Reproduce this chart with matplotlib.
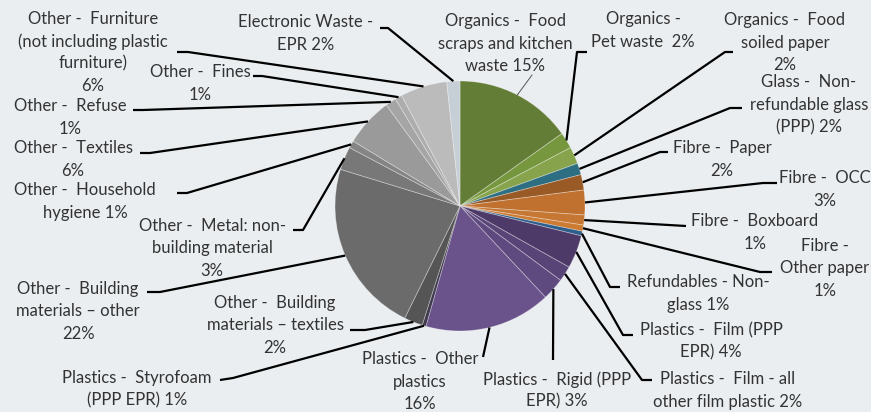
import matplotlib
matplotlib.use("Agg")
import matplotlib.pyplot as plt
import numpy as np

# ---- data ----
categories = [
    "Organics -  Food\nscraps and kitchen\nwaste",
    "Organics -\nPet waste ",
    "Organics -  Food\nsoiled paper\n",
    "Glass -  Non-\nrefundable glass\n(PPP)",
    "Fibre -  Paper\n",
    "Fibre -  OCC\n",
    "Fibre -  Boxboard\n",
    "Fibre -\nOther paper\n",
    "Refundables - Non-\nglass",
    "Plastics -  Film (PPP\nEPR)",
    "Plastics -  Film - all\nother film plastic",
    "Plastics -  Rigid (PPP\nEPR)",
    "Plastics -  Other\nplastics\n",
    "Plastics -  Styrofoam\n(PPP EPR)",
    "Other -  Building\nmaterials \u2013 textiles\n",
    "Other -  Building\nmaterials \u2013 other\n",
    "Other -  Metal: non-\nbuilding material\n",
    "Other -  Household\nhygiene",
    "Other -  Textiles\n",
    "Other -  Refuse\n",
    "Other -  Fines\n",
    "Other -  Furniture\n(not including plastic\nfurniture)\n",
    "Electronic Waste -\nEPR",
]
values = [15.2, 2.1, 2.2, 1.5, 2.0, 3.2, 1.3, 0.8, 0.6, 4.3, 2.0, 2.9, 16.4, 0.5,
          2.4, 22.5, 3.0, 0.95, 6.3, 1.4, 0.9, 6.05, 1.7]
pct_labels = ["15%", "2%", "2%", "2%", "2%", "3%", "1%", "1%", "1%", "4%", "2%", "3%",
              "16%", "1%", "2%", "22%", "3%", "1%", "6%", "1%", "1%", "6%", "2%"]

# ---- styles / layout ----
colors = ["#637C36", "#77973F", "#87A44C", "#2E6E82", "#9A5A26", "#C0712F", "#C57733",
          "#CD7B31", "#2E5E8C", "#4E3A69", "#584476", "#5F4A80", "#6A528A", "#3F3A4E",
          "#555555", "#6B6B6B", "#787878", "#858585", "#9A9A9A", "#A5A5A5", "#ADADAD",
          "#BBBBBB", "#C6CED6"]

W, H = 871, 412
cx, cy, R = 460, 206, 125
pitch = 22.5

# label centres (pixel coords, y from top)
label_pos = [(505, 42), (643, 29), (785, 41), (809, 103), (722, 158), (825, 188),
             (755, 231), (825, 267), (698, 292), (711, 340), (728, 389), (557, 389),
             (420, 380), (137, 388), (275, 324), (78, 310), (212, 247), (85, 200),
             (73, 158), (70, 116), (200, 82), (93, 51), (306, 32)]
# leader line start (at label) and knee
leader_start = [(532, 75), (587, 52), (733, 52), (742, 108), (668, 152), (777, 183),
                (686, 226), (772, 272), (620, 287), (633, 335), (652, 380), (553, 360),
                (483, 357), (220, 380), (350, 330), (147, 292), (293, 230), (177, 193),
                (140, 153), (133, 110), (253, 76), (177, 52), (380, 28)]
leader_knee = [None, (577, 52), (725, 52), (730, 108), (660, 152), (763, 183),
               None, (760, 272), (610, 287), (623, 335), (642, 380), None,
               None, (233, 378), (365, 330), (160, 292), (303, 230), (187, 193),
               (150, 153), (143, 110), (262, 76), (188, 52), (388, 28)]

bg = "#EAEEF1"
fig = plt.figure(figsize=(W / 100, H / 100), dpi=100, facecolor=bg)
ax = fig.add_axes([0, 0, 1, 1])
ax.set_facecolor(bg)

wedges, _ = ax.pie(values, colors=colors, startangle=90, counterclock=False,
                   center=(cx, cy), radius=R,
                   wedgeprops=dict(edgecolor=(1, 1, 1, 0.35), linewidth=0.6))
ax.set_xlim(0, W)
ax.set_ylim(0, H)
ax.set_aspect("equal")
ax.axis("off")

txt_color = "#333333"
for i, w in enumerate(wedges):
    mid = np.deg2rad((w.theta1 + w.theta2) / 2)
    ex, ey = cx + R * np.cos(mid), cy + R * np.sin(mid)
    sx, sy = leader_start[i]
    pts = [(sx, H - sy)]
    if leader_knee[i] is not None:
        kx, ky = leader_knee[i]
        pts.append((kx, H - ky))
    pts.append((ex, ey))
    xs, ys = zip(*pts)
    if i == 0:
        ax.plot(xs, ys, color="#555555", lw=0.7, zorder=3)
    else:
        ax.plot(xs, ys, color="black", lw=1.6, zorder=3, solid_capstyle="butt")
    lab = categories[i]
    if lab.endswith("\n"):
        text = lab + pct_labels[i]
    else:
        text = lab + " " + pct_labels[i]
    tx, ty = label_pos[i]
    lines = text.split("\n")
    n = len(lines)
    for j, line in enumerate(lines):
        ly = ty + (j - (n - 1) / 2) * pitch
        ax.text(tx, H - ly, line, ha="center", va="center_baseline",
                fontsize=12, family="Lato", color=txt_color)

fig.savefig("out.png", dpi=100, facecolor=bg)
